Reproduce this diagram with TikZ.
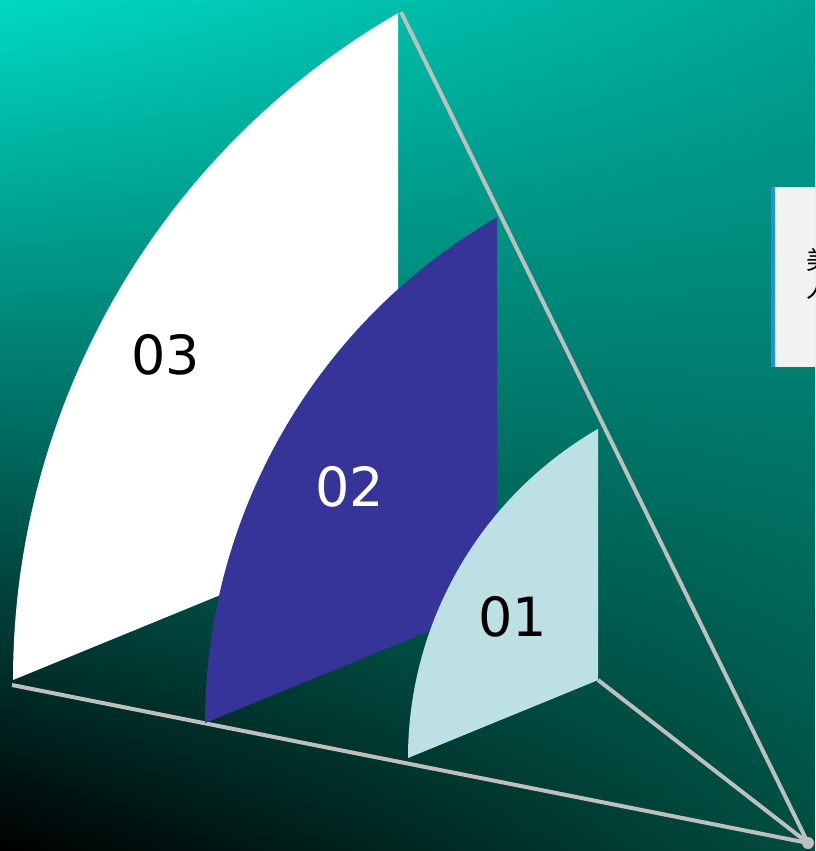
\documentclass[tikz,border=0pt]{standalone}
\usepackage{fontspec}
\usetikzlibrary{shadings}
\setmainfont{DejaVu Sans}
\newfontfamily\cjk{Noto Sans CJK SC}
\definecolor{bgUL}{HTML}{00D9C3}
\definecolor{bgUR}{HTML}{00A494}
\definecolor{bgLL}{HTML}{000000}
\definecolor{bgLR}{HTML}{004D40}
\definecolor{rigline}{HTML}{BFBFBF}
\definecolor{sailwhite}{HTML}{FFFFFF}
\definecolor{sailblue}{HTML}{363499}
\definecolor{saillight}{HTML}{BCE0E3}
\definecolor{boxfill}{HTML}{F2F2F2}
\definecolor{boxbar}{HTML}{2B8CF0}
\newcommand\mysail[3]{(#1,#2) -- ++({#3/2},{0.41*#3/2}) -- ({#1+#3/2},{#2+0.866025*#3}) arc[start angle=120,end angle=180,radius=#3] -- cycle}
\tikzset{
  rig/.style={draw=rigline, line width=4pt},
  saillabel/.style={font=\fontsize{54}{60}\selectfont, inner sep=0pt, anchor=center},
}
\begin{document}
\begin{tikzpicture}[x=1pt,y=1pt]
\useasboundingbox (0,0) rectangle (815,851);
\begin{scope}
\clip (0,0) rectangle (815,851);
\shade[upper left=bgUL, upper right=bgUR, lower left=bgLL, lower right=bgLR] (0,0) rectangle (815,851);
% rigging
\coordinate (top) at (401,839);
\coordinate (tip) at (808,8);
\coordinate (foot) at (12,166);
\coordinate (corner) at (598,171);
\draw[rig] (top) -- (tip);
\draw[rig] (foot) -- (tip);
\draw[rig] (corner) -- (tip);
\fill[rigline] (tip) circle (6);
% sails
\fill[sailwhite] \mysail{13}{171}{770};
\fill[sailblue] \mysail{205}{128}{584};
\fill[saillight] \mysail{408}{93}{380};
\node[saillabel, text=black] (s3) at (166,496) {03};
\node[saillabel, text=white] (s2) at (350,364) {02};
\node[saillabel, text=black] (s1) at (513,234) {01};
% box at right
\fill[boxfill] (771,484) rectangle (830,664);
\fill[boxbar] (771,484) rectangle (775,664);
\node[anchor=north west, align=left, inner sep=0pt, font=\cjk\fontsize{25}{28}\selectfont, text=black] (boxtext) at (806,603) {美观\\人员};
\end{scope}
\end{tikzpicture}
\end{document}
